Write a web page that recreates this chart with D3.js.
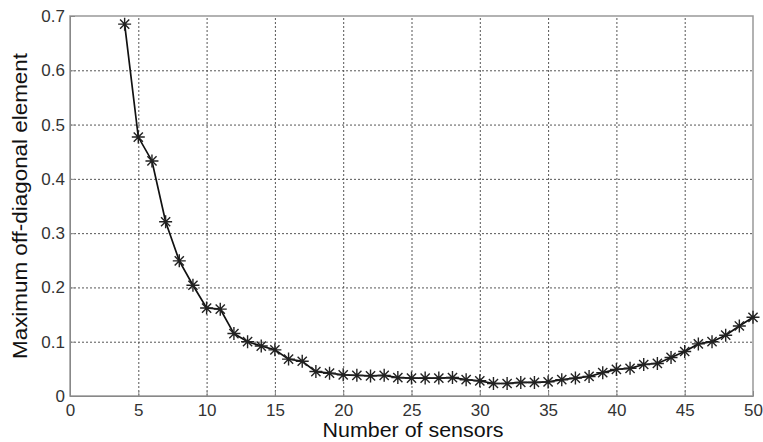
<!DOCTYPE html>
<html>
<head>
<meta charset="utf-8">
<script src="https://cdn.jsdelivr.net/npm/d3@7"></script>
<style>
  body { margin: 0; background: #fff; }
  svg text { font-family: "Liberation Sans", Arial, sans-serif; }
  .grid line { stroke: #555; stroke-dasharray: 2,2; stroke-width: 1; }
  .grid path { display: none; }
</style>
</head>
<body>
<div id="chart"></div>
<script>
// data
var sensors = [4, 5, 6, 7, 8, 9, 10, 11, 12, 13, 14, 15, 16, 17, 18, 19, 20, 21, 22, 23, 24, 25, 26, 27,
  28, 29, 30, 31, 32, 33, 34, 35, 36, 37, 38, 39, 40, 41, 42, 43, 44, 45, 46, 47, 48, 49, 50];
var maxOffDiag = [0.685, 0.477, 0.433, 0.321, 0.249, 0.204, 0.162, 0.160, 0.115, 0.100, 0.092, 0.085,
  0.068, 0.064, 0.045, 0.042, 0.039, 0.038, 0.037, 0.038, 0.034, 0.033, 0.033, 0.033, 0.034, 0.030,
  0.028, 0.023, 0.023, 0.025, 0.025, 0.026, 0.030, 0.033, 0.036, 0.043, 0.049, 0.051, 0.058, 0.060,
  0.071, 0.082, 0.096, 0.100, 0.112, 0.129, 0.145];
var xTicks = [0, 5, 10, 15, 20, 25, 30, 35, 40, 45, 50];
var yTicks = [0, 0.1, 0.2, 0.3, 0.4, 0.5, 0.6, 0.7];

var width = 763, height = 442;
var margin = { top: 16, right: 10, bottom: 46, left: 70 };

var svg = d3.select("#chart").append("svg")
  .attr("width", width)
  .attr("height", height);

var xScale = d3.scaleLinear().domain([0, 50]).range([margin.left, width - margin.right]);
var yScale = d3.scaleLinear().domain([0, 0.7]).range([height - margin.bottom, margin.top]);

var dataset = sensors.map(function(s, i) { return { x: s, y: maxOffDiag[i] }; });

// grid lines
svg.append("g")
  .attr("class", "grid")
  .attr("transform", "translate(0," + (height - margin.bottom) + ")")
  .call(d3.axisBottom(xScale).tickValues(xTicks.slice(1, -1))
    .tickSize(-(height - margin.bottom - margin.top)).tickFormat(""));

svg.append("g")
  .attr("class", "grid")
  .attr("transform", "translate(" + margin.left + ",0)")
  .call(d3.axisLeft(yScale).tickValues(yTicks.slice(1, -1))
    .tickSize(-(width - margin.left - margin.right)).tickFormat(""));

// box
svg.append("rect")
  .attr("x", margin.left)
  .attr("y", margin.top)
  .attr("width", width - margin.left - margin.right)
  .attr("height", height - margin.top - margin.bottom)
  .attr("fill", "none")
  .attr("stroke", "#999")
  .attr("stroke-width", 1.5);

// axes
var xAxis = svg.append("g")
  .attr("transform", "translate(0," + (height - margin.bottom) + ")")
  .call(d3.axisBottom(xScale).tickValues(xTicks).tickSizeInner(-5).tickSizeOuter(0).tickPadding(8));
var yAxis = svg.append("g")
  .attr("transform", "translate(" + margin.left + ",0)")
  .call(d3.axisLeft(yScale).tickValues(yTicks).tickSizeInner(-5).tickSizeOuter(0).tickPadding(5)
    .tickFormat(function(d) { return d === 0 ? "0" : d3.format(".1f")(d); }));

[xAxis, yAxis].forEach(function(ax) {
  ax.select(".domain").attr("stroke", "#888");
  ax.selectAll(".tick line").attr("stroke", "#888");
  ax.selectAll("text").attr("fill", "#333").style("font-size", "17px");
});

// line
var line = d3.line()
  .x(function(d) { return xScale(d.x); })
  .y(function(d) { return yScale(d.y); });

svg.append("path")
  .datum(dataset)
  .attr("fill", "none")
  .attr("stroke", "#111")
  .attr("stroke-width", 1.7)
  .attr("d", line);

// asterisk markers
svg.selectAll(".dot")
  .data(dataset)
  .enter().append("path")
  .attr("class", "dot")
  .attr("transform", function(d) { return "translate(" + xScale(d.x) + "," + yScale(d.y) + ")"; })
  .attr("d", function() {
    var r = 6.5, s = r * Math.SQRT1_2;
    return "M" + (-r) + ",0L" + r + ",0M0," + (-r) + "L0," + r +
      "M" + (-s) + "," + (-s) + "L" + s + "," + s + "M" + (-s) + "," + s + "L" + s + "," + (-s);
  })
  .attr("fill", "none")
  .attr("stroke", "#222")
  .attr("stroke-width", 1.4);

// axis labels
svg.append("text")
  .attr("text-anchor", "middle")
  .attr("x", 413)
  .attr("y", 437)
  .attr("textLength", 181)
  .attr("lengthAdjust", "spacingAndGlyphs")
  .style("font-size", "20px")
  .attr("fill", "#111")
  .text("Number of sensors");

svg.append("text")
  .attr("text-anchor", "middle")
  .attr("transform", "translate(27,206) rotate(-90)")
  .attr("textLength", 306)
  .attr("lengthAdjust", "spacingAndGlyphs")
  .style("font-size", "20px")
  .attr("fill", "#111")
  .text("Maximum off-diagonal element");
</script>
</body>
</html>
